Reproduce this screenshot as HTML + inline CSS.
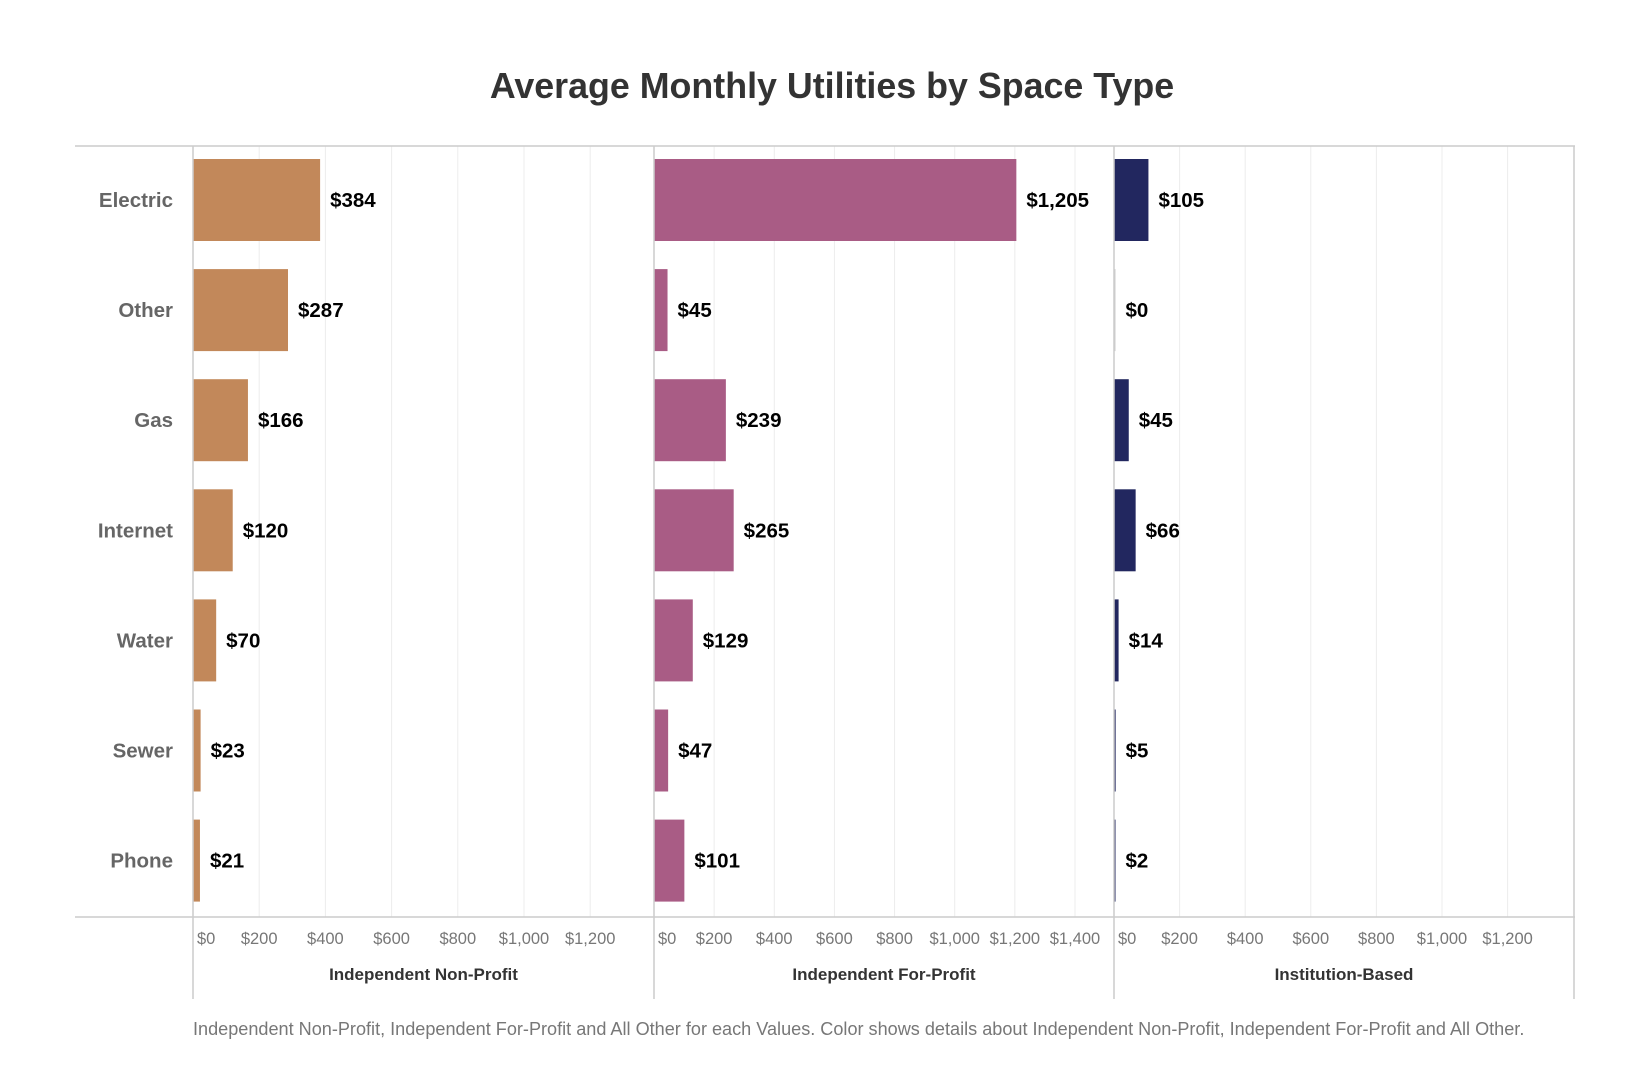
<!DOCTYPE html>
<html><head><meta charset="utf-8"><style>
body{margin:0;background:#fff;}
svg{display:block;font-family:"Liberation Sans",sans-serif;}
</style></head><body>
<svg id="chart" width="1650" height="1090">
<text x="832" y="98" text-anchor="middle" font-size="35.8" font-weight="bold" fill="#333">Average Monthly Utilities by Space Type</text>
<text x="193" y="1035" font-size="18.1" fill="#777">Independent Non-Profit, Independent For-Profit and All Other for each Values.  Color shows details about Independent Non-Profit, Independent For-Profit and All Other.</text>
</svg>
<script>
const categories = ["Electric","Other","Gas","Internet","Water","Sewer","Phone"];
const panelNames = ["Independent Non-Profit","Independent For-Profit","Institution-Based"];
const nonProfit = [384,287,166,120,70,23,21];
const forProfit = [1205,45,239,265,129,47,101];
const institution = [105,0,45,66,14,5,2];
const ticks1 = [0,200,400,600,800,1000,1200];
const ticks2 = [0,200,400,600,800,1000,1200,1400];
const ticks3 = [0,200,400,600,800,1000,1200];

const NS="http://www.w3.org/2000/svg";
const svg=document.getElementById('chart');
function mk(t,a,p){const e=document.createElementNS(NS,t);for(const k in a)e.setAttribute(k,a[k]);(p||svg).appendChild(e);return e;}
const fmt=v=>'$'+v.toLocaleString('en-US');
const plotTop=146, plotBottom=917, rowH=110.1, barH=82, firstC=200;
const yPos=i=>firstC+i*rowH;
const panels=[
 {x0:193,x1:654,scale:0.331,vals:nonProfit,ticks:ticks1,color:"#C2885A"},
 {x0:654,x1:1114,scale:0.3007,vals:forProfit,ticks:ticks2,color:"#A95C85"},
 {x0:1114,x1:1574,scale:0.328,vals:institution,ticks:ticks3,color:"#22275F"}
];
panels.forEach((p,pi)=>{
 const xs=v=>p.x0+v*p.scale;
 p.ticks.forEach(t=>{
  if(t>0){const g=mk('line',{x1:xs(t),x2:xs(t),y1:plotTop,y2:plotBottom,stroke:'#ececec','stroke-width':1});
  
  }
  const tl=mk('text',{x:t===0?p.x0+4:xs(t),y:944,'font-size':16.5,fill:'#777','text-anchor':t===0?'start':'middle'});
  tl.textContent=fmt(t);
  
  
 });
 p.vals.forEach((v,i)=>{
  const w=Math.max(v*p.scale,1.5);
  const b=mk('rect',{x:p.x0,y:yPos(i)-barH/2,width:w,height:barH,fill:v===0?'#ccc':p.color});
  
  
  const l=mk('text',{x:p.x0+w+10,y:yPos(i)+7,'font-size':20.5,'font-weight':'bold',fill:'#000'});
  l.textContent=fmt(v);
  
  
 });
 const pt=mk('text',{x:(p.x0+p.x1)/2,y:980,'font-size':17,'font-weight':'bold',fill:'#333','text-anchor':'middle'});
 pt.textContent=panelNames[pi];
 
 
 const d=mk('line',{x1:p.x0,x2:p.x0,y1:plotTop,y2:999,stroke:'#ccc','stroke-width':1.5});
 
 
});
categories.forEach((c,i)=>{
 const t=mk('text',{x:173,y:yPos(i)+7,'font-size':20.5,'font-weight':'bold',fill:'#666','text-anchor':'end'});
 t.textContent=c;
 
 
});
const tb=mk('line',{x1:75,x2:1575,y1:plotTop,y2:plotTop,stroke:'#ccc','stroke-width':1.5});


const ax=mk('line',{x1:75,x2:1575,y1:plotBottom,y2:plotBottom,stroke:'#ccc','stroke-width':1.5});


const rb=mk('line',{x1:1574,x2:1574,y1:plotTop,y2:999,stroke:'#ccc','stroke-width':1.5});


</script>
</body></html>
